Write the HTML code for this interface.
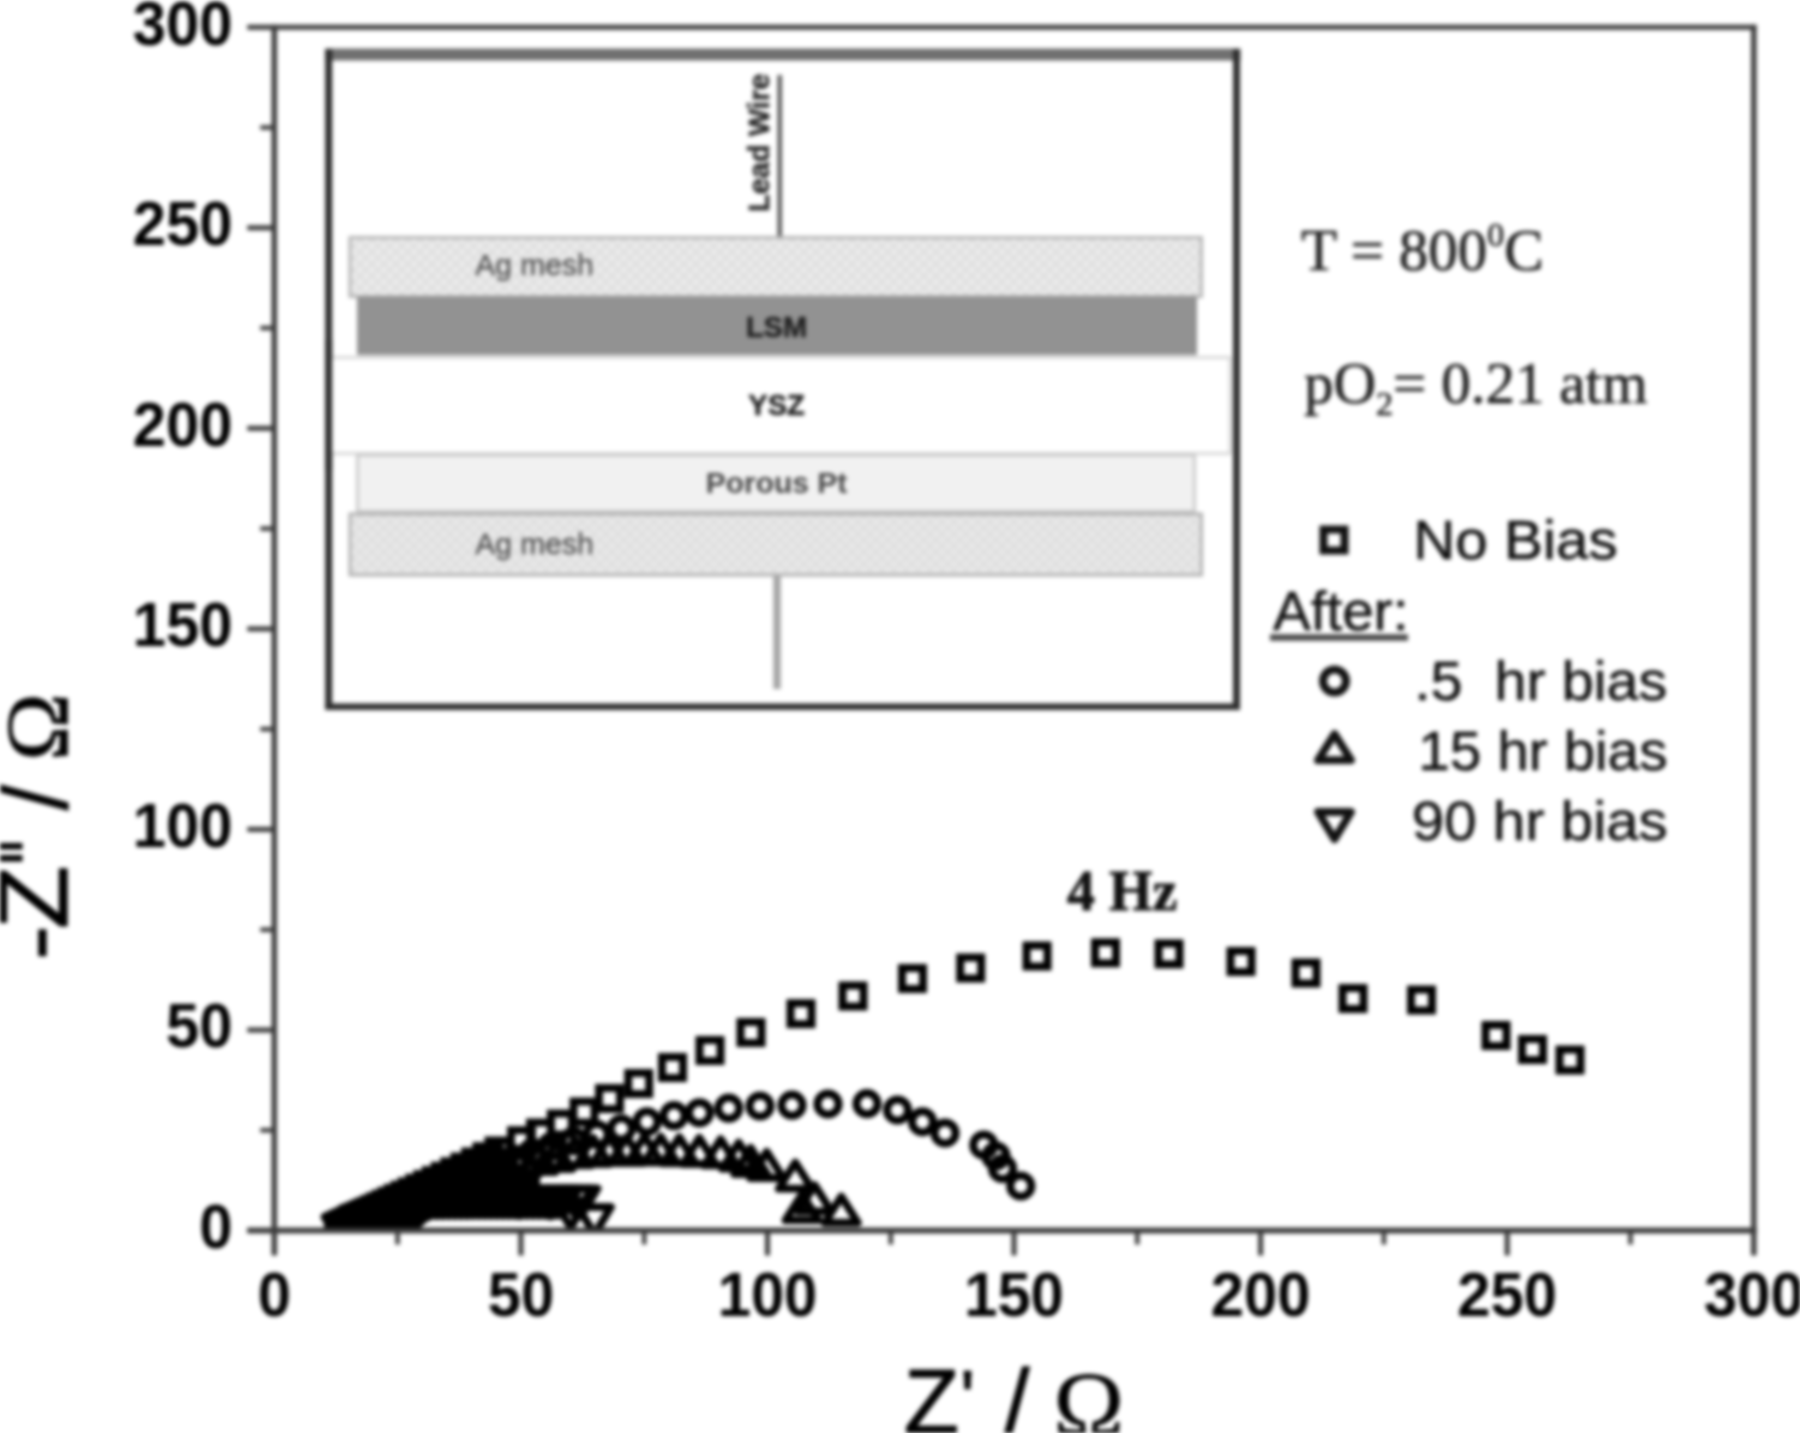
<!DOCTYPE html>
<html><head><meta charset="utf-8"><title>Nyquist plot</title>
<style>
html,body{margin:0;padding:0;background:#fff;}
body{width:1800px;height:1433px;overflow:hidden;font-family:"Liberation Sans",sans-serif;}
svg{display:block;filter:blur(2.2px);}
</style></head><body>
<svg width="1800" height="1433" viewBox="0 0 1800 1433">
<rect x="-20" y="-20" width="1840" height="1473" fill="#fff"/>
<g id="axes" stroke="#3c3c3c" fill="none" stroke-linecap="butt">
<line x1="247.3" y1="27.2" x2="1756.5" y2="27.2" stroke-width="5"/>
<line x1="247.3" y1="1230.5" x2="1756.5" y2="1230.5" stroke-width="5.5"/>
<line x1="274.3" y1="24.7" x2="274.3" y2="1255.5" stroke-width="5.5"/>
<line x1="1753.8" y1="24.7" x2="1753.8" y2="1255.5" stroke-width="5.5"/>
<line x1="520.9" y1="1230.5" x2="520.9" y2="1255.5" stroke-width="5"/>
<line x1="767.5" y1="1230.5" x2="767.5" y2="1255.5" stroke-width="5"/>
<line x1="1014.0" y1="1230.5" x2="1014.0" y2="1255.5" stroke-width="5"/>
<line x1="1260.6" y1="1230.5" x2="1260.6" y2="1255.5" stroke-width="5"/>
<line x1="1507.2" y1="1230.5" x2="1507.2" y2="1255.5" stroke-width="5"/>
<line x1="247.3" y1="1030.0" x2="274.3" y2="1030.0" stroke-width="5"/>
<line x1="247.3" y1="829.4" x2="274.3" y2="829.4" stroke-width="5"/>
<line x1="247.3" y1="628.9" x2="274.3" y2="628.9" stroke-width="5"/>
<line x1="247.3" y1="428.3" x2="274.3" y2="428.3" stroke-width="5"/>
<line x1="247.3" y1="227.8" x2="274.3" y2="227.8" stroke-width="5"/>
<line x1="397.6" y1="1230.5" x2="397.6" y2="1244.5" stroke-width="4.5"/>
<line x1="260.3" y1="1130.2" x2="274.3" y2="1130.2" stroke-width="4.5"/>
<line x1="644.2" y1="1230.5" x2="644.2" y2="1244.5" stroke-width="4.5"/>
<line x1="260.3" y1="929.7" x2="274.3" y2="929.7" stroke-width="4.5"/>
<line x1="890.8" y1="1230.5" x2="890.8" y2="1244.5" stroke-width="4.5"/>
<line x1="260.3" y1="729.1" x2="274.3" y2="729.1" stroke-width="4.5"/>
<line x1="1137.3" y1="1230.5" x2="1137.3" y2="1244.5" stroke-width="4.5"/>
<line x1="260.3" y1="528.6" x2="274.3" y2="528.6" stroke-width="4.5"/>
<line x1="1383.9" y1="1230.5" x2="1383.9" y2="1244.5" stroke-width="4.5"/>
<line x1="260.3" y1="328.0" x2="274.3" y2="328.0" stroke-width="4.5"/>
<line x1="1630.5" y1="1230.5" x2="1630.5" y2="1244.5" stroke-width="4.5"/>
<line x1="260.3" y1="127.5" x2="274.3" y2="127.5" stroke-width="4.5"/>
</g>
<g font-family="'Liberation Sans', sans-serif" font-weight="700" font-size="58" fill="#000">
<text transform="translate(274.3 1316.4) scale(1.03 1.09)" text-anchor="middle">0</text>
<text transform="translate(520.9 1316.4) scale(1.03 1.09)" text-anchor="middle">50</text>
<text transform="translate(767.5 1316.4) scale(1.03 1.09)" text-anchor="middle">100</text>
<text transform="translate(1014.0 1316.4) scale(1.03 1.09)" text-anchor="middle">150</text>
<text transform="translate(1260.6 1316.4) scale(1.03 1.09)" text-anchor="middle">200</text>
<text transform="translate(1507.2 1316.4) scale(1.03 1.09)" text-anchor="middle">250</text>
<text transform="translate(1753.8 1316.4) scale(1.03 1.09)" text-anchor="middle">300</text>
<text transform="translate(232.5 1247.9) scale(1.03 1.09)" text-anchor="end">0</text>
<text transform="translate(232.5 1047.4) scale(1.03 1.09)" text-anchor="end">50</text>
<text transform="translate(232.5 846.8) scale(1.03 1.09)" text-anchor="end">100</text>
<text transform="translate(232.5 646.2) scale(1.03 1.09)" text-anchor="end">150</text>
<text transform="translate(232.5 445.7) scale(1.03 1.09)" text-anchor="end">200</text>
<text transform="translate(232.5 245.2) scale(1.03 1.09)" text-anchor="end">250</text>
<text transform="translate(232.5 44.6) scale(1.03 1.09)" text-anchor="end">300</text>
</g>
<g font-family="'Liberation Sans', sans-serif" font-size="90" fill="#000" stroke="#000" stroke-width="1.3">
<text x="904" y="1432.5">Z</text>
<text x="959.5" y="1428" font-size="84" stroke-width="0.3">'</text>
<text x="1004.5" y="1432.5">/</text>
<text x="1053.5" y="1438" font-size="95" font-family="'Liberation Serif', serif" stroke-width="0.8">&#937;</text>
<g transform="translate(66.5 959) rotate(-90)">
<text transform="translate(-1 0) scale(1.15 1)">-</text>
<text transform="translate(30 0) scale(1.15 1.09)">Z</text>
<rect x="97.5" y="-67" width="6.5" height="23" stroke="none"/>
<rect x="109.5" y="-67" width="6.5" height="23" stroke="none"/>
<text x="149" y="0">/</text>
<text x="198" y="0" font-size="88" font-family="'Liberation Serif', serif" transform="translate(198 0) scale(1.04 1) translate(-198 0)" stroke-width="0.8">&#937;</text>
</g>
</g>
<defs><pattern id="hatch" width="12" height="12" patternUnits="userSpaceOnUse"><path d="M-3 3L3 -3M0 12L12 0M9 15L15 9M-3 9L3 15M0 0L12 12M9 -3L15 3" stroke="#dcdcdc" stroke-width="2.2" fill="none"/></pattern></defs>
<g id="inset">
<rect x="328.5" y="54" width="908" height="652.5" fill="#fff" stroke="none"/>
<line x1="325" y1="54.5" x2="1240.5" y2="54.5" stroke="#707070" stroke-width="12"/>
<line x1="328.7" y1="49" x2="328.7" y2="710" stroke="#2e2e2e" stroke-width="7"/>
<line x1="1236.5" y1="49" x2="1236.5" y2="710" stroke="#2e2e2e" stroke-width="7"/>
<line x1="325.2" y1="706.7" x2="1240" y2="706.7" stroke="#2e2e2e" stroke-width="6.5"/>
<line x1="779.7" y1="75" x2="779.7" y2="239" stroke="#5a5a5a" stroke-width="4.5"/>
<line x1="777" y1="574" x2="777" y2="689" stroke="#a6a6a6" stroke-width="7.5"/>
<rect x="350" y="237.5" width="851.5" height="59" fill="#ececec" stroke="none"/>
<rect x="350" y="237.5" width="851.5" height="59" fill="url(#hatch)" stroke="#b4b4b4" stroke-width="3"/>
<rect x="357" y="296.5" width="840" height="58.5" fill="#929292" stroke="none"/>
<rect x="330" y="357.5" width="900" height="96" fill="#fff" stroke="#cfcfcf" stroke-width="2.5"/>
<rect x="357.5" y="455" width="837" height="56.5" fill="#f1f1f1" stroke="#cacaca" stroke-width="3"/>
<rect x="350" y="514" width="851.5" height="61" fill="#e9e9e9" stroke="none"/>
<rect x="350" y="514" width="851.5" height="61" fill="url(#hatch)" stroke="#b0b0b0" stroke-width="3"/>
<line x1="328.7" y1="340" x2="328.7" y2="470" stroke="#2e2e2e" stroke-width="7"/>
<line x1="1237.5" y1="340" x2="1237.5" y2="470" stroke="#2e2e2e" stroke-width="5"/>
<g font-family="'Liberation Sans', sans-serif">
<text x="534.5" y="275" text-anchor="middle" font-size="30" fill="#555" stroke="#555" stroke-width="0.5">Ag mesh</text>
<text x="534.5" y="553.5" text-anchor="middle" font-size="30" fill="#555" stroke="#555" stroke-width="0.5">Ag mesh</text>
<text x="776.5" y="336.5" text-anchor="middle" font-size="29" font-weight="700" fill="#222" stroke="#222" stroke-width="0.6">LSM</text>
<text x="776.5" y="414.5" text-anchor="middle" font-size="29" font-weight="700" fill="#222" stroke="#222" stroke-width="0.6">YSZ</text>
<text x="776.5" y="493" text-anchor="middle" font-size="30" font-weight="700" fill="#4a4a4a">Porous Pt</text>
<text transform="translate(769 212) rotate(-90)" font-size="29" font-weight="700" fill="#2a2a2a" stroke="#2a2a2a" stroke-width="0.6">Lead Wire</text>
</g>
</g>
<g font-family="'Liberation Serif', serif" fill="#222" stroke="#222" stroke-width="0.7">
<text x="1301" y="270" font-size="59">T = 800<tspan font-size="34" dy="-24">0</tspan><tspan dy="24">C</tspan></text>
<text x="1304" y="402.5" font-size="59">pO<tspan font-size="34" dy="12">2</tspan><tspan dy="-12">= 0.21 atm</tspan></text>
<text x="1067" y="910" font-size="56" font-weight="700" fill="#111" stroke="#111" stroke-width="0.8">4 Hz</text>
</g>
<g font-family="'Liberation Sans', sans-serif" font-size="55" fill="#111" stroke="#111" stroke-width="0.6">
<text transform="translate(1413.2 559) scale(1.062 1)" >No Bias</text>
<text transform="translate(1273 630) scale(1.03 1)" >After:</text>
<text transform="translate(1414.5 700) scale(1.047 1)" xml:space="preserve">.5  hr bias</text>
<text transform="translate(1418.3 769.5) scale(1.032 1)" >15 hr bias</text>
<text transform="translate(1411.8 840) scale(1.06 1)" >90 hr bias</text>
</g>
<line x1="1270" y1="637.5" x2="1408" y2="637.5" stroke="#4a4a4a" stroke-width="6.5"/>
<g fill="#fff" stroke="#111" stroke-linejoin="round">
<rect x="1323.5" y="529.5" width="21" height="21" stroke-width="8" stroke-linejoin="miter"/>
<circle cx="1334.5" cy="681.0" r="11.5" stroke-width="8"/>
<path d="M1334.5 734.0L1351.0 760.2L1318.0 760.2Z" stroke-width="7.8"/>
<path d="M1334.5 839.2L1351.0 812.0L1318.0 812.0Z" stroke-width="7.8"/>
</g>
<clipPath id="plotclip"><rect x="276" y="30" width="1475" height="1200.3"/></clipPath>
<g clip-path="url(#plotclip)">
<polygon points="327,1231 327,1217 503,1139 505,1160 500,1178 540,1178 540,1217.5 431,1218 417,1231" fill="#000"/>
<g fill="none" stroke="#000" stroke-linejoin="round">
<rect x="328.0" y="1216.0" width="21" height="21" stroke-width="8" stroke-linejoin="miter"/>
<rect x="331.2" y="1214.5" width="21" height="21" stroke-width="8" stroke-linejoin="miter"/>
<rect x="334.5" y="1212.9" width="21" height="21" stroke-width="8" stroke-linejoin="miter"/>
<rect x="338.1" y="1211.3" width="21" height="21" stroke-width="8" stroke-linejoin="miter"/>
<rect x="341.9" y="1209.5" width="21" height="21" stroke-width="8" stroke-linejoin="miter"/>
<rect x="345.8" y="1207.6" width="21" height="21" stroke-width="8" stroke-linejoin="miter"/>
<rect x="350.1" y="1205.6" width="21" height="21" stroke-width="8" stroke-linejoin="miter"/>
<rect x="354.6" y="1203.5" width="21" height="21" stroke-width="8" stroke-linejoin="miter"/>
<rect x="359.3" y="1201.3" width="21" height="21" stroke-width="8" stroke-linejoin="miter"/>
<rect x="364.4" y="1198.9" width="21" height="21" stroke-width="8" stroke-linejoin="miter"/>
<rect x="369.7" y="1196.4" width="21" height="21" stroke-width="8" stroke-linejoin="miter"/>
<rect x="375.4" y="1193.7" width="21" height="21" stroke-width="8" stroke-linejoin="miter"/>
<rect x="381.4" y="1190.9" width="21" height="21" stroke-width="8" stroke-linejoin="miter"/>
<rect x="387.7" y="1187.9" width="21" height="21" stroke-width="8" stroke-linejoin="miter"/>
<rect x="394.5" y="1184.7" width="21" height="21" stroke-width="8" stroke-linejoin="miter"/>
<rect x="401.6" y="1181.4" width="21" height="21" stroke-width="8" stroke-linejoin="miter"/>
<rect x="409.2" y="1177.8" width="21" height="21" stroke-width="8" stroke-linejoin="miter"/>
<rect x="417.2" y="1174.1" width="21" height="21" stroke-width="8" stroke-linejoin="miter"/>
<rect x="425.7" y="1170.1" width="21" height="21" stroke-width="8" stroke-linejoin="miter"/>
<rect x="434.7" y="1165.8" width="21" height="21" stroke-width="8" stroke-linejoin="miter"/>
<rect x="444.2" y="1161.3" width="21" height="21" stroke-width="8" stroke-linejoin="miter"/>
<rect x="454.4" y="1156.6" width="21" height="21" stroke-width="8" stroke-linejoin="miter"/>
<rect x="465.1" y="1151.5" width="21" height="21" stroke-width="8" stroke-linejoin="miter"/>
<rect x="476.4" y="1146.2" width="21" height="21" stroke-width="8" stroke-linejoin="miter"/>
<rect x="488.5" y="1140.5" width="21" height="21" stroke-width="8" stroke-linejoin="miter"/>
<rect x="511.0" y="1130.2" width="21" height="21" stroke-width="8" stroke-linejoin="miter"/>
<rect x="530.0" y="1122.5" width="21" height="21" stroke-width="8" stroke-linejoin="miter"/>
<rect x="550.8" y="1113.5" width="21" height="21" stroke-width="8" stroke-linejoin="miter"/>
<rect x="573.5" y="1101.5" width="21" height="21" stroke-width="8" stroke-linejoin="miter"/>
<rect x="599.0" y="1088.0" width="21" height="21" stroke-width="8" stroke-linejoin="miter"/>
<rect x="628.2" y="1073.0" width="21" height="21" stroke-width="8" stroke-linejoin="miter"/>
<rect x="662.0" y="1057.0" width="21" height="21" stroke-width="8" stroke-linejoin="miter"/>
<rect x="699.5" y="1040.0" width="21" height="21" stroke-width="8" stroke-linejoin="miter"/>
<rect x="740.5" y="1022.0" width="21" height="21" stroke-width="8" stroke-linejoin="miter"/>
<rect x="790.5" y="1003.2" width="21" height="21" stroke-width="8" stroke-linejoin="miter"/>
<rect x="842.5" y="985.5" width="21" height="21" stroke-width="8" stroke-linejoin="miter"/>
<rect x="902.0" y="968.0" width="21" height="21" stroke-width="8" stroke-linejoin="miter"/>
<rect x="960.2" y="957.5" width="21" height="21" stroke-width="8" stroke-linejoin="miter"/>
<rect x="1026.5" y="945.5" width="21" height="21" stroke-width="8" stroke-linejoin="miter"/>
<rect x="1095.0" y="942.3" width="21" height="21" stroke-width="8" stroke-linejoin="miter"/>
<rect x="1158.5" y="943.4" width="21" height="21" stroke-width="8" stroke-linejoin="miter"/>
<rect x="1230.5" y="951.0" width="21" height="21" stroke-width="8" stroke-linejoin="miter"/>
<rect x="1295.5" y="962.5" width="21" height="21" stroke-width="8" stroke-linejoin="miter"/>
<rect x="1342.5" y="988.0" width="21" height="21" stroke-width="8" stroke-linejoin="miter"/>
<rect x="1411.0" y="989.5" width="21" height="21" stroke-width="8" stroke-linejoin="miter"/>
<rect x="1485.5" y="1025.0" width="21" height="21" stroke-width="8" stroke-linejoin="miter"/>
<rect x="1522.0" y="1039.0" width="21" height="21" stroke-width="8" stroke-linejoin="miter"/>
<rect x="1559.5" y="1049.5" width="21" height="21" stroke-width="8" stroke-linejoin="miter"/>
<circle cx="339.0" cy="1226.0" r="10.6" stroke-width="8"/>
<circle cx="342.3" cy="1224.8" r="10.6" stroke-width="8"/>
<circle cx="345.8" cy="1223.5" r="10.6" stroke-width="8"/>
<circle cx="349.5" cy="1222.1" r="10.6" stroke-width="8"/>
<circle cx="353.5" cy="1220.6" r="10.6" stroke-width="8"/>
<circle cx="357.8" cy="1219.0" r="10.6" stroke-width="8"/>
<circle cx="362.3" cy="1217.4" r="10.6" stroke-width="8"/>
<circle cx="367.2" cy="1215.6" r="10.6" stroke-width="8"/>
<circle cx="372.3" cy="1213.7" r="10.6" stroke-width="8"/>
<circle cx="377.9" cy="1211.6" r="10.6" stroke-width="8"/>
<circle cx="383.7" cy="1209.4" r="10.6" stroke-width="8"/>
<circle cx="390.0" cy="1207.1" r="10.6" stroke-width="8"/>
<circle cx="396.7" cy="1204.6" r="10.6" stroke-width="8"/>
<circle cx="403.9" cy="1202.0" r="10.6" stroke-width="8"/>
<circle cx="411.5" cy="1199.1" r="10.6" stroke-width="8"/>
<circle cx="419.7" cy="1196.1" r="10.6" stroke-width="8"/>
<circle cx="428.3" cy="1192.7" r="10.6" stroke-width="8"/>
<circle cx="437.5" cy="1189.1" r="10.6" stroke-width="8"/>
<circle cx="447.4" cy="1185.3" r="10.6" stroke-width="8"/>
<circle cx="457.9" cy="1181.1" r="10.6" stroke-width="8"/>
<circle cx="469.1" cy="1176.7" r="10.6" stroke-width="8"/>
<circle cx="481.0" cy="1172.0" r="10.6" stroke-width="8"/>
<circle cx="493.8" cy="1167.0" r="10.6" stroke-width="8"/>
<circle cx="515.0" cy="1159.0" r="10.6" stroke-width="8"/>
<circle cx="532.5" cy="1152.5" r="10.6" stroke-width="8"/>
<circle cx="551.5" cy="1146.5" r="10.6" stroke-width="8"/>
<circle cx="573.5" cy="1141.0" r="10.6" stroke-width="8"/>
<circle cx="597.0" cy="1134.5" r="10.6" stroke-width="8"/>
<circle cx="621.3" cy="1128.8" r="10.6" stroke-width="8"/>
<circle cx="647.0" cy="1121.8" r="10.6" stroke-width="8"/>
<circle cx="674.0" cy="1115.6" r="10.6" stroke-width="8"/>
<circle cx="699.5" cy="1112.8" r="10.6" stroke-width="8"/>
<circle cx="728.7" cy="1108.2" r="10.6" stroke-width="8"/>
<circle cx="760.0" cy="1106.0" r="10.6" stroke-width="8"/>
<circle cx="792.0" cy="1105.2" r="10.6" stroke-width="8"/>
<circle cx="828.0" cy="1104.0" r="10.6" stroke-width="8"/>
<circle cx="867.0" cy="1103.7" r="10.6" stroke-width="8"/>
<circle cx="897.5" cy="1110.0" r="10.6" stroke-width="8"/>
<circle cx="922.5" cy="1121.8" r="10.6" stroke-width="8"/>
<circle cx="945.0" cy="1133.0" r="10.6" stroke-width="8"/>
<circle cx="983.8" cy="1145.0" r="10.6" stroke-width="8"/>
<circle cx="996.0" cy="1156.0" r="10.6" stroke-width="8"/>
<circle cx="1002.5" cy="1168.5" r="10.6" stroke-width="8"/>
<circle cx="1020.8" cy="1186.0" r="10.6" stroke-width="8"/>
<path d="M341.0 1208.5L357.5 1234.7L324.5 1234.7Z" stroke-width="7.8"/>
<path d="M344.3 1207.3L360.8 1233.5L327.8 1233.5Z" stroke-width="7.8"/>
<path d="M347.7 1206.0L364.2 1232.2L331.2 1232.2Z" stroke-width="7.8"/>
<path d="M351.4 1204.6L367.9 1230.8L334.9 1230.8Z" stroke-width="7.8"/>
<path d="M355.3 1203.2L371.8 1229.4L338.8 1229.4Z" stroke-width="7.8"/>
<path d="M359.4 1201.7L375.9 1227.9L342.9 1227.9Z" stroke-width="7.8"/>
<path d="M363.7 1200.0L380.2 1226.2L347.2 1226.2Z" stroke-width="7.8"/>
<path d="M368.2 1198.3L384.7 1224.5L351.7 1224.5Z" stroke-width="7.8"/>
<path d="M373.0 1196.6L389.5 1222.8L356.5 1222.8Z" stroke-width="7.8"/>
<path d="M378.1 1194.7L394.6 1220.9L361.6 1220.9Z" stroke-width="7.8"/>
<path d="M383.5 1192.7L400.0 1218.9L367.0 1218.9Z" stroke-width="7.8"/>
<path d="M389.2 1190.5L405.7 1216.7L372.7 1216.7Z" stroke-width="7.8"/>
<path d="M395.2 1188.3L411.7 1214.5L378.7 1214.5Z" stroke-width="7.8"/>
<path d="M401.5 1185.9L418.0 1212.1L385.0 1212.1Z" stroke-width="7.8"/>
<path d="M408.2 1183.4L424.7 1209.6L391.7 1209.6Z" stroke-width="7.8"/>
<path d="M415.2 1180.8L431.7 1207.0L398.7 1207.0Z" stroke-width="7.8"/>
<path d="M422.7 1177.9L439.2 1204.1L406.2 1204.1Z" stroke-width="7.8"/>
<path d="M430.5 1175.0L447.0 1201.2L414.0 1201.2Z" stroke-width="7.8"/>
<path d="M438.9 1171.8L455.4 1198.0L422.4 1198.0Z" stroke-width="7.8"/>
<path d="M447.6 1168.5L464.1 1194.7L431.1 1194.7Z" stroke-width="7.8"/>
<path d="M460.0 1164.0L476.5 1190.2L443.5 1190.2Z" stroke-width="7.8"/>
<path d="M473.3 1161.2L489.8 1187.4L456.8 1187.4Z" stroke-width="7.8"/>
<path d="M484.0 1157.8L500.5 1184.0L467.5 1184.0Z" stroke-width="7.8"/>
<path d="M494.7 1155.2L511.2 1181.4L478.2 1181.4Z" stroke-width="7.8"/>
<path d="M506.7 1151.2L523.2 1177.4L490.2 1177.4Z" stroke-width="7.8"/>
<path d="M522.7 1148.0L539.2 1174.2L506.2 1174.2Z" stroke-width="7.8"/>
<path d="M538.7 1146.0L555.2 1172.2L522.2 1172.2Z" stroke-width="7.8"/>
<path d="M556.0 1142.8L572.5 1169.0L539.5 1169.0Z" stroke-width="7.8"/>
<path d="M574.7 1139.2L591.2 1165.4L558.2 1165.4Z" stroke-width="7.8"/>
<path d="M593.3 1137.8L609.8 1164.0L576.8 1164.0Z" stroke-width="7.8"/>
<path d="M609.3 1136.8L625.8 1163.0L592.8 1163.0Z" stroke-width="7.8"/>
<path d="M626.7 1137.0L643.2 1163.2L610.2 1163.2Z" stroke-width="7.8"/>
<path d="M644.5 1136.0L661.0 1162.2L628.0 1162.2Z" stroke-width="7.8"/>
<path d="M660.7 1136.5L677.2 1162.7L644.2 1162.7Z" stroke-width="7.8"/>
<path d="M679.3 1137.2L695.8 1163.4L662.8 1163.4Z" stroke-width="7.8"/>
<path d="M699.3 1137.8L715.8 1164.0L682.8 1164.0Z" stroke-width="7.8"/>
<path d="M720.7 1139.2L737.2 1165.4L704.2 1165.4Z" stroke-width="7.8"/>
<path d="M738.7 1142.5L755.2 1168.7L722.2 1168.7Z" stroke-width="7.8"/>
<path d="M750.7 1147.8L767.2 1174.0L734.2 1174.0Z" stroke-width="7.8"/>
<path d="M766.7 1151.8L783.2 1178.0L750.2 1178.0Z" stroke-width="7.8"/>
<path d="M795.3 1162.5L811.8 1188.7L778.8 1188.7Z" stroke-width="7.8"/>
<path d="M802.0 1194.0L818.5 1220.2L785.5 1220.2Z" stroke-width="7.8"/>
<path d="M814.7 1185.2L831.2 1211.4L798.2 1211.4Z" stroke-width="7.8"/>
<path d="M841.3 1196.5L857.8 1222.7L824.8 1222.7Z" stroke-width="7.8"/>
<path d="M341.0 1244.2L357.5 1217.0L324.5 1217.0Z" stroke-width="7.8"/>
<path d="M344.3 1243.2L360.8 1216.0L327.8 1216.0Z" stroke-width="7.8"/>
<path d="M347.8 1242.1L364.3 1214.9L331.3 1214.9Z" stroke-width="7.8"/>
<path d="M351.3 1241.0L367.8 1213.8L334.8 1213.8Z" stroke-width="7.8"/>
<path d="M354.9 1239.9L371.4 1212.7L338.4 1212.7Z" stroke-width="7.8"/>
<path d="M358.6 1238.8L375.1 1211.6L342.1 1211.6Z" stroke-width="7.8"/>
<path d="M362.5 1237.6L379.0 1210.4L346.0 1210.4Z" stroke-width="7.8"/>
<path d="M366.4 1236.4L382.9 1209.2L349.9 1209.2Z" stroke-width="7.8"/>
<path d="M370.4 1235.2L386.9 1208.0L353.9 1208.0Z" stroke-width="7.8"/>
<path d="M374.5 1234.0L391.0 1206.8L358.0 1206.8Z" stroke-width="7.8"/>
<path d="M378.8 1232.7L395.3 1205.5L362.3 1205.5Z" stroke-width="7.8"/>
<path d="M383.1 1231.3L399.6 1204.1L366.6 1204.1Z" stroke-width="7.8"/>
<path d="M387.6 1230.0L404.1 1202.8L371.1 1202.8Z" stroke-width="7.8"/>
<path d="M392.2 1228.6L408.7 1201.4L375.7 1201.4Z" stroke-width="7.8"/>
<path d="M396.9 1227.1L413.4 1199.9L380.4 1199.9Z" stroke-width="7.8"/>
<path d="M401.7 1225.6L418.2 1198.4L385.2 1198.4Z" stroke-width="7.8"/>
<path d="M406.6 1224.0L423.1 1196.8L390.1 1196.8Z" stroke-width="7.8"/>
<path d="M411.7 1222.4L428.2 1195.2L395.2 1195.2Z" stroke-width="7.8"/>
<path d="M416.9 1220.7L433.4 1193.5L400.4 1193.5Z" stroke-width="7.8"/>
<path d="M422.2 1219.0L438.7 1191.8L405.7 1191.8Z" stroke-width="7.8"/>
<path d="M427.7 1217.3L444.2 1190.1L411.2 1190.1Z" stroke-width="7.8"/>
<path d="M431.0 1216.2L447.5 1189.0L414.5 1189.0Z" stroke-width="7.8"/>
<path d="M437.0 1216.2L453.5 1189.0L420.5 1189.0Z" stroke-width="7.8"/>
<path d="M443.0 1216.2L459.5 1189.0L426.5 1189.0Z" stroke-width="7.8"/>
<path d="M449.0 1216.1L465.5 1188.9L432.5 1188.9Z" stroke-width="7.8"/>
<path d="M455.0 1216.1L471.5 1188.9L438.5 1188.9Z" stroke-width="7.8"/>
<path d="M461.0 1216.1L477.5 1188.9L444.5 1188.9Z" stroke-width="7.8"/>
<path d="M467.0 1216.1L483.5 1188.9L450.5 1188.9Z" stroke-width="7.8"/>
<path d="M473.0 1216.0L489.5 1188.8L456.5 1188.8Z" stroke-width="7.8"/>
<path d="M479.0 1216.0L495.5 1188.8L462.5 1188.8Z" stroke-width="7.8"/>
<path d="M485.0 1216.0L501.5 1188.8L468.5 1188.8Z" stroke-width="7.8"/>
<path d="M491.0 1216.0L507.5 1188.8L474.5 1188.8Z" stroke-width="7.8"/>
<path d="M497.0 1216.0L513.5 1188.8L480.5 1188.8Z" stroke-width="7.8"/>
<path d="M503.0 1215.9L519.5 1188.7L486.5 1188.7Z" stroke-width="7.8"/>
<path d="M509.0 1215.9L525.5 1188.7L492.5 1188.7Z" stroke-width="7.8"/>
<path d="M515.0 1215.9L531.5 1188.7L498.5 1188.7Z" stroke-width="7.8"/>
<path d="M521.0 1215.9L537.5 1188.7L504.5 1188.7Z" stroke-width="7.8"/>
<path d="M527.0 1215.8L543.5 1188.6L510.5 1188.6Z" stroke-width="7.8"/>
<path d="M533.0 1215.8L549.5 1188.6L516.5 1188.6Z" stroke-width="7.8"/>
<path d="M539.0 1215.8L555.5 1188.6L522.5 1188.6Z" stroke-width="7.8"/>
<path d="M545.0 1215.8L561.5 1188.6L528.5 1188.6Z" stroke-width="7.8"/>
<path d="M551.0 1215.8L567.5 1188.6L534.5 1188.6Z" stroke-width="7.8"/>
<path d="M557.0 1215.7L573.5 1188.5L540.5 1188.5Z" stroke-width="7.8"/>
<path d="M563.0 1215.7L579.5 1188.5L546.5 1188.5Z" stroke-width="7.8"/>
<path d="M507.0 1214.2L523.5 1187.0L490.5 1187.0Z" stroke-width="7.8"/>
<path d="M520.0 1216.2L536.5 1189.0L503.5 1189.0Z" stroke-width="7.8"/>
<path d="M575.0 1215.7L591.5 1188.5L558.5 1188.5Z" stroke-width="7.8"/>
<path d="M581.0 1215.7L597.5 1188.5L564.5 1188.5Z" stroke-width="7.8"/>
<path d="M550.7 1216.7L567.2 1189.5L534.2 1189.5Z" stroke-width="7.8"/>
<path d="M570.7 1227.5L587.2 1200.3L554.2 1200.3Z" stroke-width="7.8"/>
<path d="M594.5 1234.2L611.0 1207.0L578.0 1207.0Z" stroke-width="7.8"/>
</g></g>
<line x1="247.3" y1="1230.5" x2="1756.5" y2="1230.5" stroke="#3c3c3c" stroke-width="5.5"/>
</svg>
</body></html>
